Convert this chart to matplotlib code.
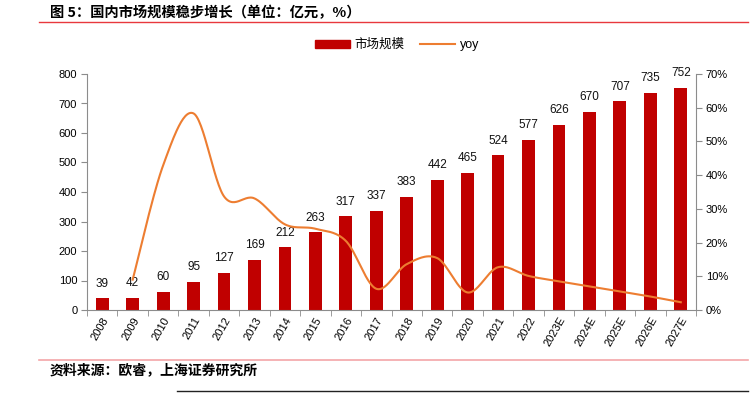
import numpy as np
import matplotlib
matplotlib.use("Agg")
import matplotlib.pyplot as plt
from matplotlib.lines import Line2D
from matplotlib.patches import Patch

plt.rcParams['font.family'] = ['Liberation Sans', 'Noto Sans CJK SC', 'DejaVu Sans']

categories = ["2008", "2009", "2010", "2011", "2012", "2013", "2014", "2015", "2016",
              "2017", "2018", "2019", "2020", "2021", "2022", "2023E", "2024E",
              "2025E", "2026E", "2027E"]
market_size = [39, 42, 60, 95, 127, 169, 212, 263, 317, 337, 383, 442, 465, 524,
               577, 626, 670, 707, 735, 752]
yoy = [None, 9.0, 42.9, 58.3, 33.7, 33.1, 25.4, 24.1, 20.5, 6.3, 13.6, 15.4, 5.2,
       12.7, 10.1, 8.5, 7.0, 5.5, 4.0, 2.3]
left_ticks = [0, 100, 200, 300, 400, 500, 600, 700, 800]
right_ticks = [0, 10, 20, 30, 40, 50, 60, 70]

BAR = "#C00000"
LINE = "#ED7D31"
AX = "#8C8C8C"

fig = plt.figure(figsize=(7.5, 3.93), dpi=100)
ax = fig.add_axes([87/750, 1-310/393, (696-87)/750, (310-74)/393])
x = np.arange(len(categories))
ax.bar(x, market_size, width=0.42, color=BAR, zorder=2)
for xi, v in zip(x, market_size):
    ax.text(xi, v + 30, str(v), ha="center", va="bottom", fontsize=8.5, color="#111111")
ax.set_xlim(-0.5, len(categories) - 0.5)
ax.set_ylim(0, 800)
ax.set_yticks(left_ticks)
ax.set_yticklabels([str(t) for t in left_ticks], fontsize=8)
ax.set_xticks(x)
ax.set_xticklabels(categories, rotation=60, ha="right", rotation_mode="anchor", fontsize=8)
ax.tick_params(axis="x", length=0, pad=4)
ax.set_xticks(np.arange(-0.5, len(categories)), minor=True)
ax.tick_params(axis="x", which="minor", length=4, color=AX, direction="out")
ax.tick_params(axis="y", length=4, color=AX, pad=3)
for s in ["top", "right"]:
    ax.spines[s].set_visible(False)
ax.spines["left"].set_color(AX)
ax.spines["bottom"].set_color(AX)

ax2 = ax.twinx()
ax2.set_ylim(0, 70)
ax2.set_yticks(right_ticks)
ax2.set_yticklabels([f"{t}%" for t in right_ticks], fontsize=8)
ax2.tick_params(axis="y", length=4, color=AX, pad=3)
for s in ["top", "left", "bottom"]:
    ax2.spines[s].set_visible(False)
ax2.spines["right"].set_color(AX)

# smooth line (Excel-style Bezier smoothing)
px = np.array([i for i, v in enumerate(yoy) if v is not None], dtype=float)
py = np.array([v for v in yoy if v is not None], dtype=float)
xs, ys = [], []
n = len(px)
t = np.linspace(0, 1, 30)
for i in range(n - 1):
    p0 = np.array([px[i], py[i]])
    p3 = np.array([px[i+1], py[i+1]])
    pm = np.array([px[i-1], py[i-1]]) if i > 0 else p0
    pp = np.array([px[i+2], py[i+2]]) if i + 2 < n else p3
    c1 = p0 + (p3 - pm) / 6
    c2 = p3 - (pp - p0) / 6
    b = ((1-t)**3)[:, None]*p0 + (3*(1-t)**2*t)[:, None]*c1 + (3*(1-t)*t**2)[:, None]*c2 + (t**3)[:, None]*p3
    xs.extend(b[:, 0]); ys.extend(b[:, 1])
ax2.plot(xs, ys, color=LINE, lw=1.5, zorder=3)

handles = [Patch(color=BAR), Line2D([0], [0], color=LINE, lw=1.5)]
fig.legend(handles, ["市场规模", "yoy"], loc="center", bbox_to_anchor=(397/750, 1-45/393),
           ncol=2, frameon=False, fontsize=9, handlelength=2.8, handleheight=0.6,
           columnspacing=1.2, handletextpad=0.4)

fig.text(50/750, 1-13/393, "图 5：国内市场规模稳步增长（单位：亿元，%）", fontsize=10.3,
         fontweight="bold", family=["Noto Sans CJK SC", "DejaVu Sans"], va="center", ha="left")
fig.add_artist(Line2D([39/750, 748/750], [1-22/393, 1-22/393], color="#E8383D", lw=1))
fig.add_artist(Line2D([39/750, 748/750], [1-360/393, 1-360/393], color="#F4A6A8", lw=1.2))
fig.text(50/750, 1-370/393, "资料来源：欧睿，上海证券研究所", fontsize=10, fontweight="bold",
         style="italic", family=["Noto Sans CJK SC", "DejaVu Sans"], va="center", ha="left")
fig.add_artist(Line2D([177/750, 748/750], [1-391/393, 1-391/393], color="#222222", lw=1))

fig.savefig("out.png", dpi=100)
